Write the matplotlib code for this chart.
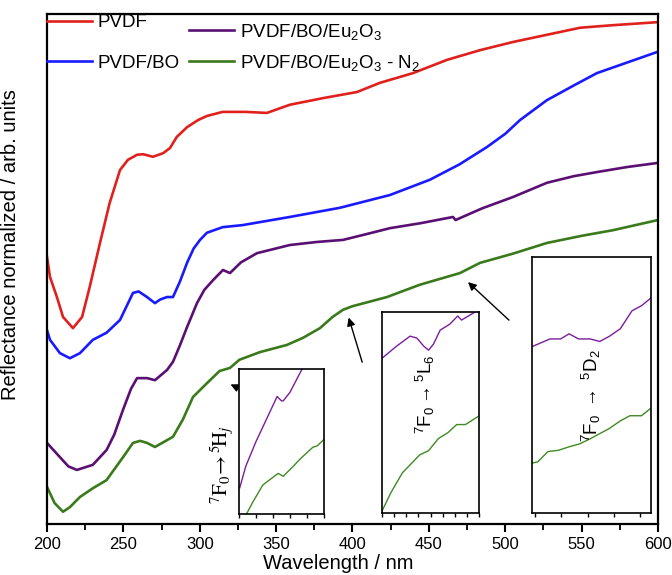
import matplotlib
matplotlib.use('Agg')
import matplotlib.pyplot as plt
from matplotlib.ticker import MultipleLocator

plt.rcParams['font.family'] = ['Liberation Sans', 'DejaVu Sans']
plt.rcParams['mathtext.fontset'] = 'custom'
plt.rcParams['mathtext.rm'] = 'Liberation Sans'
plt.rcParams['mathtext.it'] = 'Liberation Sans:italic'

# main spectra (wavelength in nm, normalized reflectance in arb. units)
red_wl = [200, 202, 206.5, 210.5, 217, 223, 228, 234.7, 241, 247.8, 253, 259, 263, 269.4, 276, 280.5,
          285, 291.7, 298.9, 304.7, 315, 330, 344, 359, 380.7, 403, 418, 439.6, 461.9, 483.5, 505,
          527, 549, 570.5, 600]
red_v = [52.4, 48.4, 44.5, 40.6, 38.4, 40.6, 46.5, 55.1, 62.9, 69.4, 71.4, 72.4, 72.5, 72.0, 72.7, 73.7,
         75.9, 77.8, 79.2, 80.0, 80.8, 80.8, 80.6, 82.2, 83.5, 84.7, 86.5, 88.4, 91.0, 92.9, 94.5,
         95.9, 97.3, 97.8, 98.4]

blue_wl = [200, 202, 208.5, 215, 221.6, 230, 239, 247.8, 256.3, 260, 265.5, 270.7, 274, 278.6, 282.5,
           287, 291.7, 296, 300.2, 304.7, 315, 328, 359, 391.8, 424.5, 450.7, 470, 488, 500, 509.7,
           527.3, 545, 560, 580, 600]
blue_v = [38.0, 36.1, 33.5, 32.5, 33.5, 36.1, 37.5, 40.0, 45.3, 45.6, 44.5, 43.3, 44.0, 44.5, 44.5,
          47.5, 51.2, 54.0, 55.7, 57.1, 58.2, 58.6, 60.2, 62.0, 64.5, 67.5, 70.5, 73.9, 76.5, 79.2,
          83.1, 86.0, 88.4, 90.5, 92.6]

purple_wl = [200, 208.5, 214, 219.6, 230, 239, 244, 249.8, 255, 259, 265.5, 270.7, 278.6, 282.5, 287,
             291.7, 298.2, 303, 308.7, 315.2, 319.8, 327, 337.5, 359, 376.8, 393.8, 410, 424.5, 445,
             465.8, 467.5, 485, 505, 527.3, 545, 560, 580, 600]
purple_v = [15.9, 13.1, 11.3, 10.6, 11.6, 14.5, 17.5, 22.4, 26.5, 28.6, 28.6, 28.2, 30.2, 31.8, 35.0,
            38.6, 43.3, 45.9, 47.8, 49.8, 49.2, 51.3, 53.1, 54.7, 55.3, 55.7, 56.9, 58.0, 59.0,
            60.2, 59.6, 61.9, 64.1, 66.9, 68.2, 69.0, 70.0, 70.8]

green_wl = [200, 205, 210.5, 215, 221.6, 230, 239, 249.8, 256.3, 261, 265.5, 270.7, 276, 282.5, 289,
            295.6, 304.7, 313, 319.8, 326, 339.4, 357, 367.6, 378.7, 387, 393.8, 400, 422.6, 444,
            470.4, 483.5, 505, 527.3, 550, 570.5, 600]
green_v = [7.3, 4.1, 2.4, 3.3, 5.3, 7.0, 8.6, 13.1, 15.9, 16.3, 15.9, 15.1, 16.0, 17.1, 20.5,
           24.9, 27.6, 30.0, 30.6, 32.2, 33.7, 35.1, 36.5, 38.4, 40.6, 42.0, 42.7, 44.5, 46.9,
           49.2, 51.2, 53.0, 55.1, 56.5, 57.6, 59.6]

labels = ['PVDF', 'PVDF/BO', 'PVDF/BO/Eu$_2$O$_3$', 'PVDF/BO/Eu$_2$O$_3$ - N$_2$']
colors = ['#e0201c', '#1a1aff', '#5a0f72', '#3b7a1c']

# insets (zoomed, scaled to the inset box)
ins1_p_wl = [315.2, 317, 320, 322, 324, 326.2, 327.5, 328, 330, 332, 334]
ins1_p_v = [0.18, 0.33, 0.5, 0.6, 0.7, 0.81, 0.78, 0.78, 0.84, 0.93, 1.02]
ins1_g_wl = [317.2, 319, 322, 326.5, 328, 331, 333, 336.7, 338, 339.8]
ins1_g_v = [0.0, 0.08, 0.2, 0.28, 0.26, 0.33, 0.38, 0.46, 0.47, 0.51]

ins2_p_wl = [385, 388, 390.8, 392.2, 393.6, 394.6, 395.6, 397, 399, 400.6, 401.4, 402.8, 404.2]
ins2_p_v = [0.77, 0.83, 0.88, 0.87, 0.83, 0.81, 0.84, 0.91, 0.94, 0.98, 0.96, 0.98, 1.0]
ins2_g_wl = [385, 386.8, 389.2, 390.8, 392.8, 394.6, 396.6, 398.6, 400.4, 402.2, 404.8]
ins2_g_v = [0.01, 0.1, 0.2, 0.24, 0.29, 0.31, 0.37, 0.40, 0.44, 0.44, 0.48]

ins3_p_wl = [459.5, 462.9, 464.9, 466.5, 468.3, 470.5, 472.3, 474.1, 476.2, 478.4, 480.2, 482]
ins3_p_v = [0.65, 0.68, 0.68, 0.70, 0.68, 0.68, 0.67, 0.69, 0.72, 0.79, 0.81, 0.84]
ins3_g_wl = [459.5, 460.6, 462.5, 464.5, 466.7, 468.5, 470.5, 472.3, 474.1, 476.2, 478, 480.2, 482]
ins3_g_v = [0.195, 0.2, 0.24, 0.245, 0.26, 0.27, 0.29, 0.31, 0.33, 0.36, 0.38, 0.38, 0.41]

fig = plt.figure(figsize=(6.72, 5.75), dpi=100)
ax = fig.add_axes([0.0699, 0.0887, 0.9092, 0.887])

lines = []
for wl, v, c, lab in zip([red_wl, blue_wl, purple_wl, green_wl],
                         [red_v, blue_v, purple_v, green_v], colors, labels):
    ln, = ax.plot(wl, v, color=c, lw=1.9, label=lab)
    lines.append(ln)

ax.set_xlim(200, 600)
ax.set_ylim(0, 100)
ax.set_xticks(range(200, 601, 50))
ax.xaxis.set_minor_locator(MultipleLocator(25))
ax.set_yticks([])
ax.tick_params(axis='x', which='major', direction='out', length=6, width=1.5, labelsize=12)
ax.tick_params(axis='x', which='minor', direction='out', length=4, width=1.3)
for s in ax.spines.values():
    s.set_linewidth(1.6)

ax.set_xlabel('Wavelength / nm', fontsize=14.5)
ax.xaxis.set_label_coords(0.476, -0.058)
ax.set_ylabel('Reflectance normalized / arb. units', fontsize=14.5)
ax.yaxis.set_label_coords(-0.044, 0.547)

leg1 = ax.legend(lines[:2], labels[:2], loc='upper left', bbox_to_anchor=(0.0, 1.0),
                 frameon=False, fontsize=13.5, handlelength=2.4, handletextpad=0.3,
                 labelspacing=1.25, borderpad=0, borderaxespad=0)
ax.add_artist(leg1)
ax.legend(lines[2:], labels[2:], loc='upper left', bbox_to_anchor=(0.233, 0.985),
          frameon=False, fontsize=13.5, handlelength=2.4, handletextpad=0.3,
          labelspacing=0.6, borderpad=0, borderaxespad=0)

# arrows to the transitions
arrow = dict(arrowstyle='-|>', color='black', lw=1, mutation_scale=12)
ax.annotate('', xy=(318.5, 27.6), xytext=(334.9, 25.3), arrowprops=arrow)
ax.annotate('', xy=(397, 41.0), xytext=(406.9, 31.2), arrowprops=arrow)
ax.annotate('', xy=(474.3, 47.8), xytext=(503.8, 39.6), arrowprops=arrow)


def make_inset(rect, pw, pv, gw, gv, xlim, step):
    ia = fig.add_axes(rect)
    ia.plot(pw, pv, color='#7a1d9c', lw=1)
    ia.plot(gw, gv, color='#3f8a22', lw=1)
    ia.set_xlim(*xlim)
    ia.set_ylim(0, 1)
    ia.set_yticks([])
    ia.xaxis.set_major_locator(MultipleLocator(step))
    ia.tick_params(axis='x', direction='out', length=3, width=1, labelbottom=False)
    for s in ia.spines.values():
        s.set_linewidth(1.2)
    return ia


in1 = make_inset([0.3557, 0.1061, 0.1265, 0.2522], ins1_p_wl, ins1_p_v, ins1_g_wl, ins1_g_v, (315, 340), 5)
in2 = make_inset([0.5685, 0.1078, 0.1443, 0.3496], ins2_p_wl, ins2_p_v, ins2_g_wl, ins2_g_v, (385, 405), 2.5)
in3 = make_inset([0.7917, 0.1078, 0.1771, 0.4452], ins3_p_wl, ins3_p_v, ins3_g_wl, ins3_g_v, (459.5, 482), 5)

fig.text(0.330, 0.192, r'$^7\mathrm{F}_0\!\rightarrow^5\!\mathrm{H}_j$', rotation=90, ha='center', va='center',
         fontsize=15, math_fontfamily='stix')
in2.text(0.45, 0.59, r'$^7$F$_0$$\rightarrow$$^5$L$_6$', rotation=90, ha='center', va='center',
         fontsize=13.5, transform=in2.transAxes)
in3.text(0.5, 0.46, r'$^7$F$_0$ $\rightarrow$ $^5$D$_2$', rotation=90, ha='center', va='center',
         fontsize=13.5, transform=in3.transAxes)

fig.savefig('out.png', dpi=100)
